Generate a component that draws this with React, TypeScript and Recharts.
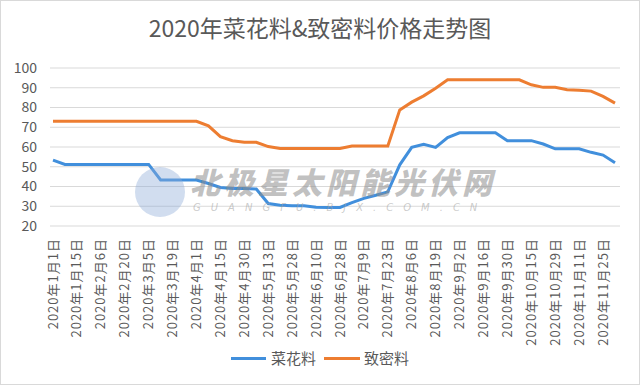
import { LineChart, Line, XAxis, YAxis, CartesianGrid } from 'recharts'

const dates = [
  '1月1日', '1月8日', '1月15日', '1月22日', '2月6日', '2月13日', '2月20日', '2月27日',
  '3月5日', '3月12日', '3月19日', '3月25日', '4月1日', '4月8日', '4月15日', '4月22日',
  '4月30日', '5月7日', '5月13日', '5月20日', '5月28日', '6月3日', '6月10日', '6月17日',
  '6月28日', '7月2日', '7月9日', '7月16日', '7月23日', '7月29日', '8月6日', '8月12日',
  '8月19日', '8月26日', '9月2日', '9月9日', '9月16日', '9月23日', '9月30日', '10月9日',
  '10月15日', '10月22日', '10月29日', '11月4日', '11月11日', '11月18日', '11月25日', '12月2日',
]

// 菜花料
const caihua = [
  53.4, 51.2, 51.2, 51.2, 51.2, 51.2, 51.2, 51.2, 51.2, 43.3, 43.3, 43.3, 43.3,
  41.5, 39.5, 39, 39, 38.7, 31.4, 30.5, 30.3, 30.3, 29.5, 29.4, 29.4, 31.8, 34, 35.6, 37.3,
  51, 59.8, 61.4, 59.8, 64.8, 67.2, 67.2, 67.2, 67.2,
  63.2, 63.2, 63.2, 61.5, 59.1, 59.1, 59.1, 57.3, 55.9, 52,
]

// 致密料
const zhimi = [
  73, 73, 73, 73, 73, 73, 73, 73, 73, 73, 73, 73, 73,
  70.7, 65.2, 63.2, 62.4, 62.4, 60.2, 59.3, 59.3, 59.3, 59.3, 59.3, 59.3, 60.5, 60.5, 60.5, 60.5,
  78.8, 82.7, 85.9, 89.8, 94, 94, 94, 94, 94, 94, 94,
  91.5, 90.2, 90.2, 89, 88.7, 88.3, 85.6, 82.2,
]

const yTicks = [20, 30, 40, 50, 60, 70, 80, 90, 100]

const data = dates.map((d, i) => ({ date: d, caihua: caihua[i], zhimi: zhimi[i] }))

const FONT = '"Noto Sans CJK SC", "Noto Sans", sans-serif'
const BLUE = '#418fdc'
const ORANGE = '#ED7D31'

const XTick = ({ x, y, payload }: any) => (
  <text
    transform={`translate(${x},${y + 4}) rotate(-90)`}
    textAnchor="end"
    dy="0.35em"
    fontSize={13}
    letterSpacing={1}
    fill="#595959"
    fontFamily={FONT}
  >
    2020年{payload.value}
  </text>
)

export default function App() {
  return (
    <div style={{ position: 'absolute', left: 0, top: 0, width: 640, height: 385, background: '#fff', fontFamily: FONT }}>
      <div style={{ position: 'absolute', inset: 0, border: '1px solid #d9d9d9', boxSizing: 'border-box' }} />
      <div style={{ position: 'absolute', top: 11, left: 0, width: 640, textAlign: 'center', fontSize: 23, color: '#595959', lineHeight: '32px' }}>
        2020年菜花料&amp;致密料价格走势图
      </div>

      <LineChart width={640} height={385} data={data} margin={{ top: 68, right: 20, left: 0, bottom: 49 }}>
        <CartesianGrid vertical={false} stroke="#d9d9d9" />
        <XAxis dataKey="date" interval={1} height={110} axisLine={false} tickLine={false} tick={<XTick />} padding={{ left: 3, right: 5 }} />
        <YAxis domain={[20, 100]} ticks={yTicks} interval={0} width={50} axisLine={false} tickLine={false} tickMargin={7}
          tick={{ fill: '#595959', fontSize: 14, fontFamily: FONT }} />
        <Line type="linear" dataKey="caihua" name="菜花料" stroke={BLUE} strokeWidth={3} dot={false} isAnimationActive={false} />
        <Line type="linear" dataKey="zhimi" name="致密料" stroke={ORANGE} strokeWidth={3} dot={false} isAnimationActive={false} />
      </LineChart>

      {/* watermark */}
      <div style={{ position: 'absolute', left: 135, top: 167, width: 50, height: 50, borderRadius: 25, background: 'rgba(140,170,215,0.4)' }} />
      <div style={{ position: 'absolute', left: 190, top: 163, fontSize: 30, fontWeight: 900, fontStyle: 'italic', letterSpacing: 4, color: 'rgba(140,140,140,0.55)', lineHeight: '36px', whiteSpace: 'nowrap' }}>
        北极星太阳能光伏网
      </div>
      <div style={{ position: 'absolute', left: 193, top: 202, fontSize: 10, fontStyle: 'italic', letterSpacing: 10, color: 'rgba(160,160,160,0.55)', lineHeight: '12px', whiteSpace: 'nowrap', fontFamily: '"DejaVu Sans", sans-serif' }}>
        GUANGFU.BJX.COM.CN
      </div>

      {/* legend */}
      <div style={{ position: 'absolute', top: 347, left: 0, width: 640, display: 'flex', justifyContent: 'center', alignItems: 'center', fontSize: 15, color: '#595959', lineHeight: '22px' }}>
        <span style={{ display: 'inline-block', width: 35, height: 3, background: BLUE, marginRight: 5 }} />
        <span style={{ marginRight: 8 }}>菜花料</span>
        <span style={{ display: 'inline-block', width: 36, height: 3, background: ORANGE, marginRight: 4 }} />
        <span>致密料</span>
      </div>
    </div>
  )
}
